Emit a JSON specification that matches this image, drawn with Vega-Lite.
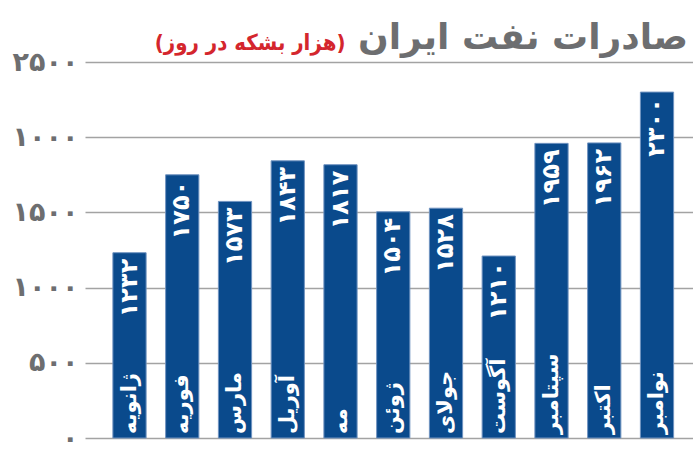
{
  "$schema": "https://vega.github.io/schema/vega-lite/v6.json",
  "width": 608,
  "height": 376,
  "autosize": {"type": "none"},
  "padding": {"left": 85, "top": 62, "right": 0, "bottom": 26},
  "background": "white",
  "config": {"view": {"stroke": null}, "font": "DejaVu Sans"},
  "title": {
    "text": "صادرات نفت ایران",
    "anchor": "end",
    "frame": "group",
    "color": "#6d6e70",
    "fontSize": 36,
    "fontWeight": "bold",
    "font": "DejaVu Sans",
    "offset": 12,
    "dx": -5,
    "dy": 38
  },
  "data": {
    "values": [
      {"month": "ژانویه", "value": 1232, "label": "۱۲۳۲"},
      {"month": "فوریه", "value": 1750, "label": "۱۷۵۰"},
      {"month": "مارس", "value": 1573, "label": "۱۵۷۳"},
      {"month": "آوریل", "value": 1843, "label": "۱۸۴۳"},
      {"month": "مه", "value": 1817, "label": "۱۸۱۷"},
      {"month": "ژوئن", "value": 1504, "label": "۱۵۰۴"},
      {"month": "جولای", "value": 1528, "label": "۱۵۲۸"},
      {"month": "آگوست", "value": 1210, "label": "۱۲۱۰"},
      {"month": "سپتامبر", "value": 1959, "label": "۱۹۵۹"},
      {"month": "اکتبر", "value": 1962, "label": "۱۹۶۲"},
      {"month": "نوامبر", "value": 2300, "label": "۲۳۰۰"}
    ]
  },
  "encoding": {
    "x": {
      "field": "month",
      "type": "nominal",
      "sort": null,
      "axis": null,
      "scale": {"paddingInner": 0.37, "paddingOuter": 0.448, "align": 0.59}
    }
  },
  "layer": [
    {
      "mark": {"type": "bar", "color": "#0a4a8c", "stroke": "#7093c0", "strokeWidth": 1},
      "encoding": {
        "y": {
          "field": "value",
          "type": "quantitative",
          "scale": {"domain": [0, 2500], "nice": false},
          "axis": {
            "title": "(هزار بشکه در روز)",
            "titleAngle": 0,
            "titleAlign": "right",
            "titleX": 260,
            "titleY": -13,
            "titleBaseline": "alphabetic",
            "titleColor": "#d4262d",
            "titleFontSize": 22,
            "titleFont": "DejaVu Sans Condensed",
            "titleFontWeight": "bold",
            "values": [0, 500, 1000, 1500, 2000, 2500],
            "labelExpr": "datum.value == 0 ? '۰' : datum.value == 500 ? '۵۰۰' : datum.value == 1000 ? '۱۰۰۰' : datum.value == 1500 ? '۱۵۰۰' : datum.value == 2000 ? '۱۰۰۰' : '۲۵۰۰'",
            "labelFontSize": 27,
            "labelFont": "DejaVu Sans",
            "labelColor": "#6d6e70",
            "labelFontWeight": "bold",
            "labelPadding": 7,
            "ticks": false,
            "domain": false,
            "grid": true,
            "gridColor": "#a3a3a3",
            "gridWidth": 1.5
          }
        }
      }
    },
    {
      "mark": {"type": "text", "angle": 270, "align": "right", "baseline": "middle", "dx": -6, "color": "white", "fontSize": 24, "fontWeight": "bold"},
      "encoding": {
        "y": {"field": "value", "type": "quantitative"},
        "text": {"field": "label"}
      }
    },
    {
      "mark": {"type": "text", "angle": 270, "align": "left", "baseline": "middle", "dx": 4, "color": "white", "fontSize": 21, "fontWeight": "bold"},
      "encoding": {
        "y": {"datum": 0},
        "text": {"field": "month"}
      }
    }
  ]
}
